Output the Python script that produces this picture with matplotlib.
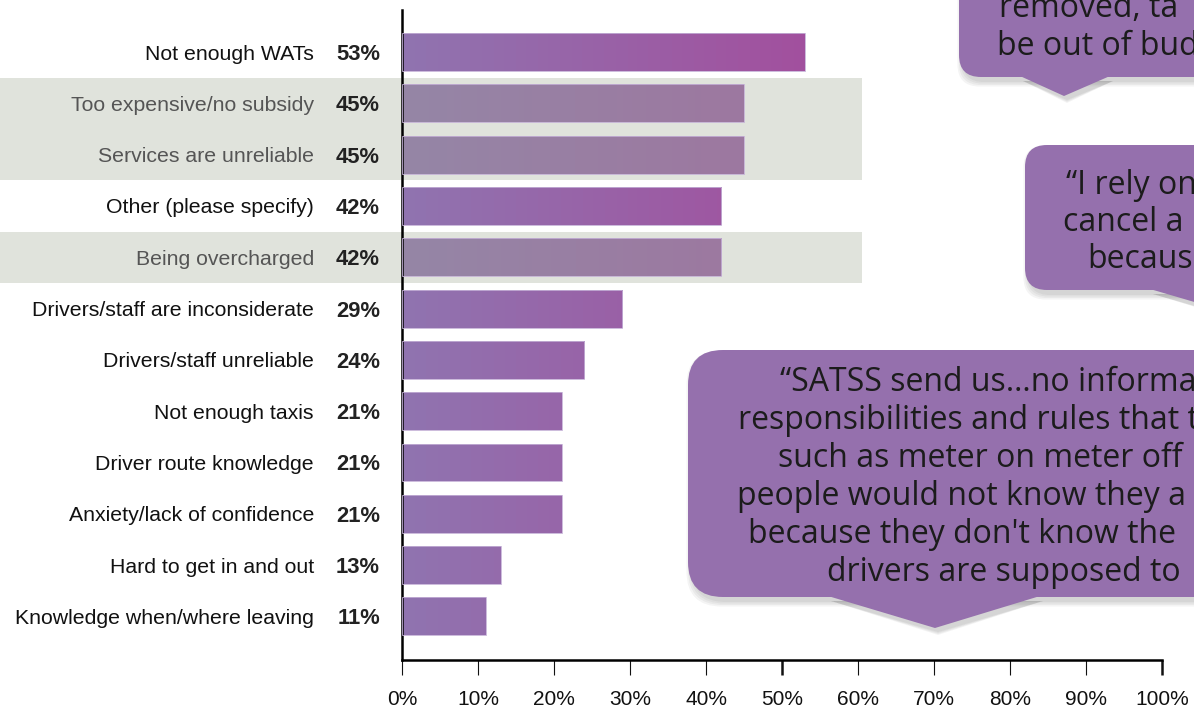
import numpy as np
import matplotlib.pyplot as plt
from matplotlib.patches import Rectangle, FancyBboxPatch, Polygon
from matplotlib.colors import LinearSegmentedColormap

# survey data
categories = ["Not enough WATs", "Too expensive/no subsidy", "Services are unreliable",
              "Other (please specify)", "Being overcharged", "Drivers/staff are inconsiderate",
              "Drivers/staff unreliable", "Not enough taxis", "Driver route knowledge",
              "Anxiety/lack of confidence", "Hard to get in and out",
              "Knowledge when/where leaving"]
values = [53, 45, 45, 42, 42, 29, 24, 21, 21, 21, 13, 11]
highlight = [False, True, True, False, True, False, False, False, False, False, False, False]
xticks = list(range(0, 101, 10))

# quotes in the speech bubbles, only the part visible on the slide
quote1 = ["removed, ta", "be out of bud"]
quote2 = ["\u201cI rely on", "cancel a", "becaus"]
quote3 = ["\u201cSATSS send us\u2026no informa",
          "responsibilities and rules that t",
          "such as meter on meter off",
          "people would not know they a",
          "because they don't know the",
          "drivers are supposed to"]

W, H = 1194, 707
plt.rcParams['font.family'] = ['Liberation Sans', 'DejaVu Sans']
fig = plt.figure(figsize=(W / 100, H / 100), dpi=100)
ax = fig.add_axes([402 / W, 1 - 660 / H, 760 / W, 650 / H])

rows = np.arange(len(categories))

# grey bands behind the highlighted rows
for r, hl in zip(rows, highlight):
    if hl:
        ax.add_patch(Rectangle((-52.9, r - 0.5), 52.9 + 60.5, 1.0, color='#e0e3dc',
                               clip_on=False, zorder=0, lw=0))

cmap_norm = LinearSegmentedColormap.from_list(
    "norm", [(0, (144/255, 116/255, 176/255)), (0.53, (162/255, 80/255, 158/255)),
             (1, (178/255, 48/255, 142/255))])
cmap_hl = LinearSegmentedColormap.from_list(
    "hl", [(0, (149/255, 134/255, 166/255)), (0.45, (157/255, 120/255, 160/255)),
           (1, (167/255, 103/255, 153/255))])

bars = ax.barh(rows, values, height=0.74, color='none', edgecolor='#c4b0d6',
               linewidth=0.6, zorder=3)
grad = np.linspace(0, 100, 500)[None, :]
for bar, hl in zip(bars, highlight):
    im = ax.imshow(grad, extent=[0, 100, bar.get_y() + bar.get_height(), bar.get_y()],
                   cmap=cmap_hl if hl else cmap_norm, vmin=0, vmax=100,
                   aspect='auto', zorder=2, interpolation='bilinear')
    im.set_clip_path(bar)

ax.set_xlim(0, 100)
ax.set_ylim(len(categories) - 1 + 0.85, -0.82)

# labels
ax.set_yticks(rows, categories)
ax.tick_params(axis='y', length=0, pad=63.4, labelsize=15.3)
for lab, hl in zip(ax.get_yticklabels(), highlight):
    lab.set_color('#555555' if hl else '#111111')
for r, v in zip(rows, values):
    ax.text(-2.9, r, f"{v}%", ha='right', va='center_baseline', fontweight='bold',
            fontsize=15.8, color='#222222', clip_on=False)

ax.set_xticks(xticks, [f"{t}%" for t in xticks])
ax.tick_params(axis='x', direction='out', length=10.8, width=0.8, pad=10.5,
               labelsize=15, colors='#111111')
for t, tick in zip(xticks, ax.xaxis.get_major_ticks()):
    if t in (50, 100):
        tick.tick1line.set_markeredgewidth(1.8)

for s in ['top', 'right']:
    ax.spines[s].set_visible(False)
for s in ['left', 'bottom']:
    ax.spines[s].set_linewidth(1.8)
    ax.spines[s].set_color('black')

# speech bubbles drawn on top in pixel coords
ov = fig.add_axes([0, 0, 1, 1])
ov.set_xlim(0, W)
ov.set_ylim(H, 0)
ov.axis('off')
ov.set_zorder(5)

bcol = '#9570ad'


def bubble(x0, y0, y1, rad, base, tip, lines, starts, baselines):
    x1 = W + 120
    for k in range(4):
        ov.add_patch(FancyBboxPatch((x0 + 3, y0 + 5), x1 - x0, y1 - y0,
                                    boxstyle=f"round,pad={k * 1.5},rounding_size={rad}",
                                    color='#444444', alpha=0.06, lw=0))
        ov.add_patch(Polygon([(base[0] + 3, y1 + 4), (base[1] + 3, y1 + 4),
                              (tip[0] + 3, tip[1] + 4 + k)],
                             color='#444444', alpha=0.06, lw=0))
    ov.add_patch(FancyBboxPatch((x0, y0), x1 - x0, y1 - y0,
                                boxstyle=f"round,pad=0,rounding_size={rad}",
                                color=bcol, lw=0))
    ov.add_patch(Polygon([(base[0], y1 - 1), (base[1], y1 - 1), tip], color=bcol, lw=0))
    for line, sx, by in zip(lines, starts, baselines):
        ov.text(sx, by, line, ha='left', va='baseline', fontsize=23,
                family=['Open Sans', 'DejaVu Sans'], color='#1c1c1c')


bubble(959, -60, 77, 22, (1020, 1110), (1064, 96), quote1, [999, 997], [17, 55])
bubble(1025, 145, 290, 22, (1150, 1400), (1290, 330), quote2,
       [1066, 1063, 1087], [194, 231, 268])
bubble(688, 350, 597, 35, (828, 1040), (935, 628), quote3,
       [780, 738, 778, 737, 748, 827], [391, 429, 467, 505, 543, 581])

fig.savefig("out.png", dpi=100)
